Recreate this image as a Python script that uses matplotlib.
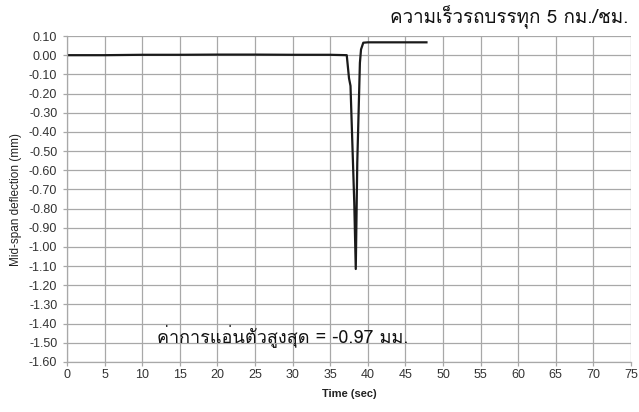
import matplotlib
matplotlib.use("Agg")
import matplotlib.pyplot as plt
from matplotlib import font_manager
from matplotlib.ft2font import FT2Font
import numpy as np

# ---- data ----
time_s = [0, 5, 10, 15, 20, 25, 30, 35, 37.2, 37.5, 37.7, 38.2, 38.4, 38.6, 38.95, 39.1, 39.4, 40, 45, 47.8]
deflection_mm = [0.0, 0.0, 0.002, 0.002, 0.003, 0.003, 0.002, 0.002, 0.0, -0.12, -0.16, -0.77, -1.115, -0.56, -0.04, 0.03, 0.065, 0.067, 0.067, 0.067]
x_ticks = list(range(0, 80, 5))
y_ticks = [round(0.1 - 0.1 * i, 2) for i in range(18)]
y_tick_labels = ["%.2f" % v for v in y_ticks]
title_text = "ความเร็วรถบรรทุก 5 กม./ชม."
note_text = "ค่าการแอ่นตัวสูงสุด = -0.97 มม."

# ---- find a font with Thai glyphs ----
thai_family = None
for f in font_manager.fontManager.ttflist:
    try:
        ft = FT2Font(f.fname)
        if ft.get_char_index(ord("ก")) and ft.get_char_index(ord("ม")):
            thai_family = f.name
            if "Thai" in f.name or "Loma" in f.name or "Garuda" in f.name:
                break
    except Exception:
        pass
thai_fams = ([thai_family] if thai_family else []) + ["Liberation Sans", "DejaVu Sans"]

plt.rcParams["font.family"] = ["Liberation Sans", "DejaVu Sans"]

fig = plt.figure(figsize=(6.39, 4.12), dpi=100)
ax = fig.add_axes([67 / 639, 1 - 362 / 412, (631 - 67) / 639, (362 - 36) / 412])

ax.plot(time_s, deflection_mm, color="#1a1a1a", lw=1.6)

ax.set_xlim(0, 75)
ax.set_ylim(-1.6, 0.1)
ax.set_xticks(x_ticks)
ax.set_xticklabels([str(t) for t in x_ticks], fontsize=9, color="#333333")
ax.set_yticks(y_ticks)
ax.set_yticklabels(y_tick_labels, fontsize=9, color="#333333")
ax.grid(True, color="#a8a8a8", lw=0.9)
ax.set_axisbelow(True)
for s in ["top", "right"]:
    ax.spines[s].set_visible(False)
for s in ["left", "bottom"]:
    ax.spines[s].set_color("#a8a8a8")
    ax.spines[s].set_linewidth(0.9)
ax.tick_params(axis="both", direction="out", length=3, color="#a8a8a8", width=0.9, pad=4)
ax.tick_params(axis="x", pad=2)

ax.set_xlabel("Time (sec)", fontsize=8, fontweight="bold", color="#222222", labelpad=6)
ax.set_ylabel("Mid-span deflection (mm)", fontsize=8.5, color="#222222", labelpad=5)

fig.text(628 / 639, 1 - 17 / 412, title_text, family=thai_fams, fontsize=13.5,
         ha="right", va="center", color="#111111")
fig.text(157 / 639, 1 - 336 / 412, note_text, family=thai_fams, fontsize=13,
         ha="left", va="center", color="#111111")

fig.savefig("out.png", dpi=100)
